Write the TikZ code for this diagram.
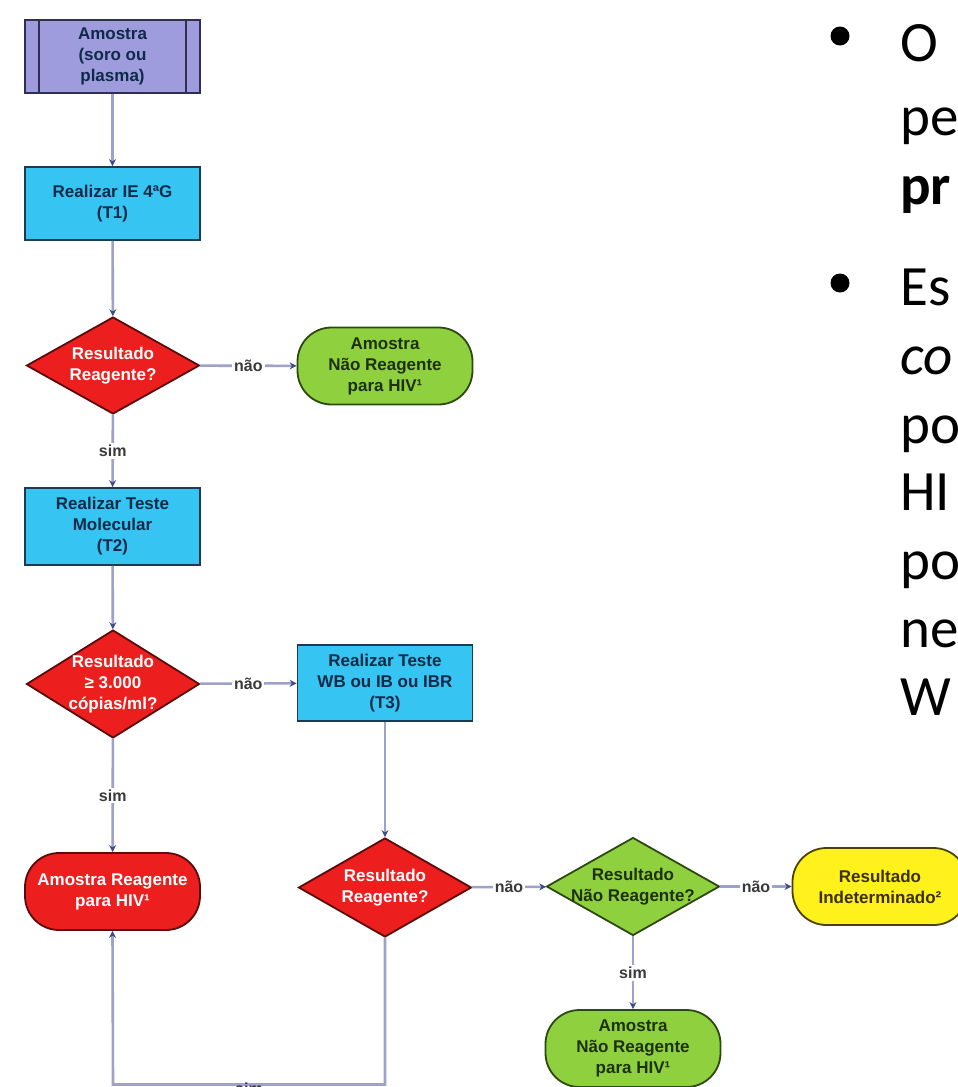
\documentclass[tikz,border=0pt]{standalone}
\usepackage{fontspec}
\setmainfont{Liberation Sans}
\newfontfamily\slidefont{Carlito}
\usetikzlibrary{shapes.geometric,arrows.meta}

\definecolor{procfill}{HTML}{9E9CDD}
\definecolor{procline}{HTML}{2E2E58}
\definecolor{taskfill}{HTML}{36C5F2}
\definecolor{taskline}{HTML}{1C3A52}
\definecolor{taskText}{HTML}{0E2A48}
\definecolor{redfill}{HTML}{EC1E1E}
\definecolor{redline}{HTML}{5A0C0C}
\definecolor{greenfill}{HTML}{8FD03F}
\definecolor{greenline}{HTML}{2E4812}
\definecolor{greenText}{HTML}{1E3008}
\definecolor{yelfill}{HTML}{FFF11C}
\definecolor{yelline}{HTML}{4C4200}
\definecolor{yelText}{HTML}{3C3000}
\definecolor{connline}{HTML}{9EA1CA}
\definecolor{tipcol}{HTML}{3E4C86}
\definecolor{labelText}{HTML}{3A3A3A}

\tikzset{
  x=1pt, y=-1pt,
  chart/.style={font=\bfseries\fontsize{17}{21}\selectfont, align=center, inner sep=0pt},
  procbox/.style={chart, draw=procline, fill=procfill, text=taskText, line width=1.8pt,
    minimum width=175pt, minimum height=73pt},
  taskbox/.style={chart, draw=taskline, fill=taskfill, text=taskText, line width=1.8pt,
    minimum width=175pt, minimum height=76pt},
  redterm/.style={chart, draw=redline, fill=redfill, text=white, line width=1.8pt,
    minimum width=175pt, minimum height=77pt, rounded corners=34pt},
  greenterm/.style={chart, draw=greenline, fill=greenfill, text=greenText, line width=1.8pt,
    minimum width=175pt, minimum height=77pt, rounded corners=34pt},
  yelterm/.style={chart, draw=yelline, fill=yelfill, text=yelText, line width=1.8pt,
    minimum width=175pt, minimum height=77pt, rounded corners=34pt},
  reddia/.style={diamond, draw=redline, fill=redfill, line width=1.8pt, inner sep=0pt,
    minimum width=173pt, minimum height=97pt},
  greendia/.style={diamond, draw=greenline, fill=greenfill, line width=1.8pt, inner sep=0pt,
    minimum width=173pt, minimum height=97pt},
  diatext/.style={chart},
  conn/.style={draw=connline, line width=2.6pt,
    -{Stealth[length=7pt,width=7pt,color=tipcol]}},
  lbl/.style={font=\bfseries\fontsize{16}{18}\selectfont, text=labelText, fill=white,
    inner sep=2pt},
  slide/.style={anchor=base west, font=\slidefont\fontsize{57}{68}\selectfont, inner sep=0pt},
  bulletdot/.style={fill=black}
}

\begin{document}
\begin{tikzpicture}
\path[use as bounding box] (0,0) rectangle (958,1087);
\clip (0,0) rectangle (958,1087);
\fill[white] (0,0) rectangle (958,1087);

% ---- flowchart nodes ----
\node[procbox] (sample) at (112.5,56.5) {Amostra\\(soro ou\\plasma)};
\draw[procline, line width=1.8pt]
  ([xshift=15pt]sample.north west) -- ([xshift=15pt]sample.south west)
  ([xshift=-15pt]sample.north east) -- ([xshift=-15pt]sample.south east);

\node[taskbox, minimum height=73pt] (t1) at (112.5,203.5) {Realizar IE 4ªG\\(T1)};

\node[reddia] (d1) at (113,365.5) {};
\node[diatext, text=white] (d1t) at (d1) {Resultado\\Reagente?};

\node[greenterm] (nr1) at (385,366) {Amostra\\Não Reagente\\para HIV¹};

\node[taskbox, minimum height=77pt] (t2) at (112.5,526.5) {Realizar Teste\\Molecular\\(T2)};

\node[reddia, minimum height=108pt] (d2) at (113,684) {};
\node[diatext, text=white] (d2t) at (d2) {Resultado\\≥ 3.000\\cópias/ml?};

\node[taskbox] (t3) at (385,683) {Realizar Teste\\WB ou IB ou IBR\\(T3)};

\node[redterm] (rr) at (112.5,891.5) {Amostra Reagente\\para HIV¹};

\node[reddia, minimum height=99pt] (d3) at (385,887.5) {};
\node[diatext, text=white] (d3t) at (d3) {Resultado\\Reagente?};

\node[greendia, minimum height=98pt] (d4) at (633,886.5) {};
\node[diatext, text=greenText] (d4t) at (d4) {Resultado\\Não Reagente?};

\node[yelterm] (ind) at (880,886.5) {Resultado\\Indeterminado²};

\node[greenterm] (nr2) at (633,1048.5) {Amostra\\Não Reagente\\para HIV¹};

% ---- connectors ----
\draw[conn] (sample) -- (t1);
\draw[conn] (t1) -- (d1);
\draw[conn] (d1) -- node[lbl] (l1) {não} (nr1);
\draw[conn] (d1) -- node[lbl] (l2) {sim} (t2);
\draw[conn] (t2) -- (d2);
\draw[conn] (d2) -- node[lbl] (l3) {não} (t3);
\draw[conn] (d2) -- node[lbl] (l4) {sim} (rr);
\draw[conn] (t3) -- (d3);
\draw[conn] (d3) -- node[lbl] (l5) {não} (d4);
\draw[conn] (d4) -- node[lbl] (l6) {não} (ind);
\draw[conn] (d4) -- node[lbl] (l7) {sim} (nr2);
\coordinate (loopR) at (385,1084.5);
\coordinate (loopL) at (113,1084.5);
\draw[conn] (d3.south) -- (loopR) -- (loopL) -- (rr.south);
\node[lbl, fill=none, anchor=north] (l8) at (249,1081) {sim};

% ---- slide text beside the chart ----
\fill[bulletdot] (840,36) circle (9.5);
\fill[bulletdot] (840,283) circle (9.5);
\node[slide] (s1) at (900,61) {O};
\node[slide] (s2) at (900,135) {pe};
\node[slide] (s3) at (900,204) {\bfseries pr};
\node[slide] (s4) at (900,305) {Es};
\node[slide] (s5) at (900,374) {\itshape co};
\node[slide] (s6) at (900,443) {po};
\node[slide] (s7) at (900,510) {HI};
\node[slide] (s8) at (900,579) {po};
\node[slide] (s9) at (900,647) {ne};
\node[slide] (s10) at (900,715) {W};
\end{tikzpicture}
\end{document}
